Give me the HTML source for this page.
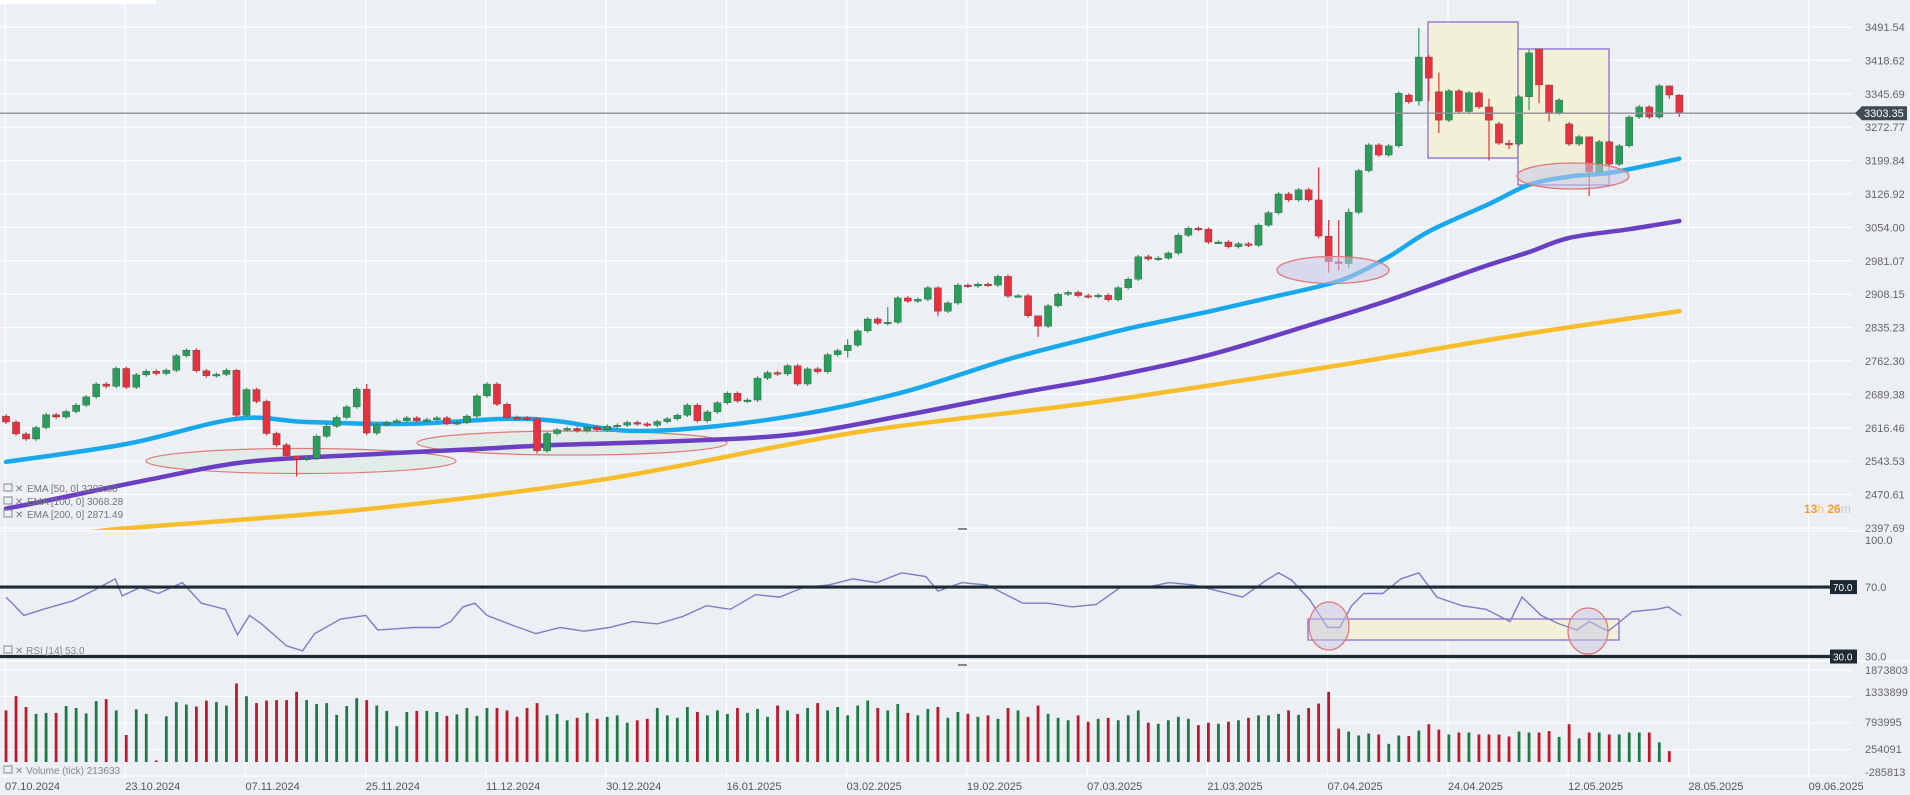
<!DOCTYPE html>
<html><head><meta charset="utf-8"><title>Chart</title>
<style>
html,body{margin:0;padding:0;background:#eceff3;}
svg{display:block;font-family:"Liberation Sans",sans-serif;}
</style></head>
<body>
<svg id="chart" width="1910" height="795" viewBox="0 0 1910 795" xmlns="http://www.w3.org/2000/svg">
<rect x="0" y="0" width="1910" height="795" fill="#eceff3"/>
<rect x="0" y="0" width="156" height="4" fill="#ffffff"/>
<g id="grid"></g>
<g id="annot-back"></g>
<g id="price"></g>
<g id="annot-front"></g>
<g id="rsi"></g>
<g id="vol"></g>
<g id="axes"></g>
</svg>
<script>
// ---------- DATA ----------
const closes = [2629,2603,2592,2617,2645,2640,2652,2666,2684,2712,2707,2746,2705,2732,2740,2735,2742,2774,2786,2741,
2730,2733,2742,2644,2700,2674,2604,2579,2555,2548,2550,2598,2620,2639,2662,2701,2605,2623,2628,2632,
2638,2632,2634,2638,2626,2628,2642,2686,2712,2668,2639,2638,2636,2566,2604,2612,2615,2610,2618,2612,
2620,2622,2628,2625,2622,2630,2636,2644,2666,2632,2651,2671,2692,2675,2677,2725,2737,2734,2752,2712,
2745,2739,2776,2785,2797,2828,2854,2845,2847,2900,2893,2897,2922,2871,2889,2928,2926,2930,2928,2947,
2904,2905,2861,2838,2883,2908,2912,2905,2903,2906,2896,2922,2941,2990,2985,2987,2998,3037,3052,3050,
3022,3022,3012,3018,3015,3059,3086,3127,3114,3136,3114,3035,2979,2975,3087,3178,3234,3212,3232,3347,
3328,3426,3380,3288,3352,3307,3348,3317,3288,3238,3234,3339,3435,3365,3304,3332,3236,3252,3176,3241,
3192,3232,3295,3317,3295,3363,3343,3303];
const firstOpen = 2642;
const openOverrides = [[140,3343],[141,3330],[143,3350],[149,3280],[156,3280],[153,3444],[151,3236],[160,3241]];
const wicks = [[131,3185,3030],[132,3070,2955],[133,3070,2960],[134,3095,2965],[141,3490,3320],[142,3430,3330],
[143,3392,3260],[148,3335,3200],[150,3245,3225],[152,3442,3310],[153,3440,3325],[154,3310,3285],[158,3180,3122],
[166,3360,3335],[167,3345,3295],[29,2555,2510],[36,2712,2600],[23,2745,2640],[53,2640,2560],[103,2842,2815],
[93,2925,2860],[88,2880,2840],[84,2810,2770]];
const volumes = [1050,1340,1120,980,1000,1000,1140,1100,990,1240,1280,1050,550,1070,980,30,930,1220,1170,1130,
1250,1220,1150,1600,1340,1200,1250,1260,1260,1430,1260,1180,1200,960,1140,1300,1260,1150,1040,730,
1020,1040,1040,1020,940,970,1100,940,1100,1100,
1050,920,1100,1200,950,980,850,900,1000,880,920,950,
800,850,880,1100,950,900,1120,1020,950,1050,980,1100,
1000,1080,920,1150,1050,980,1100,1200,1050,1120,950,1150,
1250,1100,1050,1180,1000,950,1080,1120,900,1020,980,920,
950,880,1100,1050,920,1150,980,900,850,950,820,880,
900,850,950,1050,800,780,850,920,880,750,800,780,820,850,900,
950,950,980,1050,960,1100,1190,1430,680,620,540,580,560,370,540,530,640,770,660,560,600,600,
560,560,560,520,620,600,600,630,510,770,480,600,600,560,560,600,600,600,400,220];
const ema50Idx = [0,12,23,30,40,50,55,62,70,80,90,100,109,113,120,126,131,134,138,142,148,152,156,160,164,167];
const ema50Val = [2542,2581,2636,2629,2625,2636,2631,2610,2618,2648,2697,2766,2817,2838,2870,2900,2925,2945,2990,3045,3105,3147,3165,3173,3190,3204];
const ema100Idx = [0,4,14,24,35,46,55,68,79,90,101,110,120,130,138,147,152,156,162,167];
const ema100Val = [2440,2457,2502,2542,2557,2569,2579,2588,2603,2645,2692,2727,2775,2840,2895,2965,3000,3031,3050,3068];
const ema200Idx = [8,12,36,60,85,109,133,151,167];
const ema200Val = [2385,2397,2439,2505,2607,2673,2753,2819,2871];
const rsiIdx = [0,1.8,3.7,6.7,9.1,10.9,11.6,13.4,15.2,17.6,19.5,21.9,23.1,24.3,25.5,28,29.6,30.8,33.4,35.9,37.1,40.7,43.2,44.4,45.6,46.8,48,50.5,52.9,55.3,57.7,60.2,62.6,65,67.5,69.9,72.3,74.8,77.2,79.6,82.1,84.5,86.9,89.4,91.8,93,95.4,97.9,99.1,101.5,104,106.4,108.8,111.2,113.7,116.1,118.5,121,123.4,125.8,127,128.3,130.1,131.9,133.1,134.3,135.5,137.4,139.2,141,142.8,145.3,147.7,150.1,151.3,153.2,155,156.8,158,159.9,161.1,162.3,164.7,165.9,167.2];
const rsiVal = [64.2,53.7,57.2,62.1,69.1,74.7,64.9,69.8,66.3,72.6,60.7,57.2,42.5,53.7,48.8,36.1,33.3,43.2,51.6,53.7,45.3,46.7,46.7,50.2,58.6,60.7,53.7,48.1,43.2,46.7,44.6,46.7,50.2,48.8,53,59.3,57.2,65.6,64.2,69.8,71.2,74.7,72.6,78.2,76.1,67.7,72.6,71.2,67.7,60.7,60.7,58.6,60,69.8,69.8,72.6,71.2,67.7,64.2,74,78.2,74,62.8,46.7,46.7,59.3,66.3,66.3,74.7,78.2,64.2,59.3,57.2,50.2,64.2,53.7,48.8,45.3,50.2,44.6,50.2,55.8,57.2,58.6,53.7];
const priceTicks = ["3491.54","3418.62","3345.69","3272.77","3199.84","3126.92","3054.00","2981.07","2908.15","2835.23","2762.30","2689.38","2616.46","2543.53","2470.61","2397.69"];
const volTicks = ["1873803","1333899","793995","254091","-285813"];
const volTickVals = [1873803,1333899,793995,254091,-285813];
const dateLabels = ["07.10.2024","23.10.2024","07.11.2024","25.11.2024","11.12.2024","30.12.2024","16.01.2025","03.02.2025","19.02.2025","07.03.2025","21.03.2025","07.04.2025","24.04.2025","12.05.2025","28.05.2025","09.06.2025"];
const lastPrice = 3303.35;

// ---------- SCALES ----------
const NS = "http://www.w3.org/2000/svg";
function px(i){ return 6 + 10.02*i; }
function py(p){ return 27 + (3491.54 - p)*0.458; }
function ry(v){ return 535 + (100 - v)*1.736; }
function vy(v){ return 762 - v*0.0491; } // v in thousands
function mk(tag, attrs, parent){ const e=document.createElementNS(NS,tag); for(const k in attrs) e.setAttribute(k,attrs[k]); parent.appendChild(e); return e; }
const G = id => document.getElementById(id);
const PLOT_R = 1852;

// ---------- GRID ----------
const grid = G('grid');
priceTicks.forEach((t,k)=>{
  const y = py(parseFloat(t));
  const l = mk('line',{x1:0,x2:PLOT_R,y1:y,y2:y,stroke:'#ffffff','stroke-width':1.2},grid);
  
  
});
volTickVals.forEach(v=>{
  const y = vy(v/1000);
  const l = mk('line',{x1:0,x2:PLOT_R,y1:y,y2:y,stroke:'#ffffff','stroke-width':1},grid);
  
  
});
dateLabels.forEach((d,k)=>{
  const x = px(12*k)-1;
  const l = mk('line',{x1:x,x2:x,y1:0,y2:778,stroke:'#ffffff','stroke-width':1.2},grid);
  
  
});
// pane separators
[531,661].forEach(y=>{
  const l = mk('line',{x1:0,x2:1910,y1:y,y2:y,stroke:'#f7f8fa','stroke-width':2},grid);
  
  
});

// ---------- ANNOTATIONS (back) ----------
const ab = G('annot-back');
function ell(cx,cy,rx,ryy,fill,name,parent){
  const e = mk('ellipse',{cx:cx,cy:cy,rx:rx,ry:ryy,fill:fill,stroke:'#e07a7a','stroke-width':1.2,'fill-opacity':0.75},parent);
  
  
}
ell(301,461,155,12.5,'#dde9e3','support-ellipse-1',ab);
ell(572,443,155,12,'#dde9e3','support-ellipse-2',ab);
const r1 = mk('rect',{x:1428,y:22,width:90,height:136,fill:'#f3f0d8',stroke:'#8a6fd0','stroke-width':1.3},ab);


const r2 = mk('rect',{x:1518,y:49,width:91,height:136,fill:'#f3f0d8',stroke:'#8a6fd0','stroke-width':1.3},ab);



// ---------- EMA LINES ----------
const price = G('price');
mk('clipPath',{id:'pclip'},price).appendChild((()=>{const r=document.createElementNS(NS,'rect');r.setAttribute('x',0);r.setAttribute('y',0);r.setAttribute('width',PLOT_R);r.setAttribute('height',530);return r;})());
function smoothPath(xs, ys){
  let d = 'M'+xs[0].toFixed(1)+','+ys[0].toFixed(1);
  for(let k=0;k<xs.length-1;k++){
    const x0=xs[Math.max(k-1,0)],y0=ys[Math.max(k-1,0)],x1=xs[k],y1=ys[k],x2=xs[k+1],y2=ys[k+1],x3=xs[Math.min(k+2,xs.length-1)],y3=ys[Math.min(k+2,xs.length-1)];
    const c1x=x1+(x2-x0)/6,c1y=y1+(y2-y0)/6,c2x=x2-(x3-x1)/6,c2y=y2-(y3-y1)/6;
    d+=' C'+c1x.toFixed(1)+','+c1y.toFixed(1)+' '+c2x.toFixed(1)+','+c2y.toFixed(1)+' '+x2.toFixed(1)+','+y2.toFixed(1);
  }
  return d;
}
const emaG = mk('g',{'clip-path':'url(#pclip)'},price);


const e200 = mk('path',{d:smoothPath(ema200Idx.map(px),ema200Val.map(py)),fill:'none',stroke:'#f7bd2a','stroke-width':4.5,'stroke-linecap':'round'},emaG);


const e100 = mk('path',{d:smoothPath(ema100Idx.map(px),ema100Val.map(py)),fill:'none',stroke:'#6a3fc4','stroke-width':4.5,'stroke-linecap':'round'},emaG);


const e50 = mk('path',{d:smoothPath(ema50Idx.map(px),ema50Val.map(py)),fill:'none',stroke:'#17a9ec','stroke-width':4.5,'stroke-linecap':'round'},emaG);



// ---------- CANDLES ----------
const opens = closes.map((c,i)=> i===0 ? firstOpen : closes[i-1]);
openOverrides.forEach(([i,o])=>{ opens[i]=o; });
const wickMap = {};
wicks.forEach(([i,h,l])=>{ wickMap[i]=[h,l]; });
const UP='#2a9d5c', DN='#e6323e';
closes.forEach((c,i)=>{
  const o = opens[i];
  const up = c >= o;
  const col = up ? UP : DN;
  const hi = wickMap[i] ? wickMap[i][0] : Math.max(o,c)+4;
  const lo = wickMap[i] ? wickMap[i][1] : Math.min(o,c)-4;
  const x = px(i);
  const g = mk('g',{},price);
  
  
  mk('line',{x1:x,x2:x,y1:py(hi),y2:py(lo),stroke:col,'stroke-width':1.2},g);
  const yt = py(Math.max(o,c)), yb = py(Math.min(o,c));
  mk('rect',{x:x-3.6,y:yt,width:7.2,height:Math.max(yb-yt,1.6),fill:col,stroke:'#3a3a3a','stroke-width':0.3},g);
});

// ---------- ANNOTATIONS (front) ----------
const af = G('annot-front');
const ea = mk('ellipse',{cx:1333,cy:270,rx:56,ry:13.5,fill:'#c9c7e6','fill-opacity':0.55,stroke:'#e07a7a','stroke-width':1.3},af);


const eb = mk('ellipse',{cx:1573,cy:176,rx:56,ry:13,fill:'#c9c7e6','fill-opacity':0.55,stroke:'#e07a7a','stroke-width':1.3},af);


// last price line
const lp = mk('line',{x1:0,x2:1858,y1:py(lastPrice),y2:py(lastPrice),stroke:'#8c9096','stroke-width':1.3},af);


const lpt = mk('path',{d:`M1855 ${py(lastPrice)} L1862 ${py(lastPrice)-7} L1907 ${py(lastPrice)-7} L1907 ${py(lastPrice)+7} L1862 ${py(lastPrice)+7} Z`,fill:'#3f4a55'},af);


const lptx = mk('text',{x:1864,y:py(lastPrice)+4,'font-size':11,fill:'#ffffff'},af);
lptx.textContent = lastPrice.toFixed(2);



// legends
const leg = [["EMA [50, 0] 3203.88",492],["EMA [100, 0] 3068.28",505],["EMA [200, 0] 2871.49",518]];
leg.forEach(([t,y])=>{
  const g = mk('g',{},af);
  
  
  mk('rect',{x:4,y:y-8,width:8,height:7,fill:'none',stroke:'#888','stroke-width':1},g);
  const x = mk('text',{x:15,y:y,'font-size':10,fill:'#777'},g); x.textContent='✕';
  const tx = mk('text',{x:27,y:y,'font-size':10,fill:'#777'},g); tx.textContent=t;
});
const cd = mk('text',{x:1804,y:513,'font-size':12,fill:'#f0a12a','font-weight':'bold'},af);


cd.innerHTML = '13<tspan fill="#f5c684" font-weight="normal">h</tspan> 26<tspan fill="#c8c8c8" font-weight="normal">m</tspan>';

// ---------- RSI ----------
const rsi = G('rsi');
const rbox = mk('rect',{x:1308,y:619,width:311,height:21,fill:'#f3f0d8',stroke:'#8a6fd0','stroke-width':1.3},rsi);


const rp = mk('polyline',{points:rsiIdx.map((ix,k)=>px(ix).toFixed(1)+','+ry(rsiVal[k]).toFixed(1)).join(' '),fill:'none',stroke:'#7c7fc4','stroke-width':1.4},rsi);


[[1329,626,20,24],[1588,631,20,23]].forEach(([cx,cy,rx,r2])=>{
  const c = mk('ellipse',{cx:cx,cy:cy,rx:rx,ry:r2,fill:'#c9c7e6','fill-opacity':0.5,stroke:'#e07a7a','stroke-width':1.3},rsi);
  
  
});
[70,30].forEach(v=>{
  const y = ry(v);
  const l = mk('line',{x1:0,x2:1832,y1:y,y2:y,stroke:'#1e2a33','stroke-width':3.2},rsi);
  
  
  const b = mk('rect',{x:1830,y:y-7,width:27,height:14,fill:'#1e2a33'},rsi);
  
  
  const t = mk('text',{x:1833,y:y+4,'font-size':10,fill:'#fff'},rsi); t.textContent=v.toFixed(1);
});
const rl = mk('g',{},rsi);


mk('rect',{x:4,y:646,width:8,height:7,fill:'none',stroke:'#888','stroke-width':1},rl);
const rlt = mk('text',{x:15,y:654,'font-size':10,fill:'#888'},rl); rlt.textContent='✕  RSI [14] 53.0';

// ---------- VOLUME ----------
const vol = G('vol');
volumes.forEach((v,i)=>{
  const up = closes[i] >= opens[i];
  const b = mk('rect',{x:px(i)-1.4,y:vy(v),width:2.8,height:Math.max(762-vy(v),1),fill: up ? '#1e7a45' : '#c0182a'},vol);
  
  
});
const vl = mk('g',{},vol);


mk('rect',{x:4,y:766,width:8,height:7,fill:'none',stroke:'#888','stroke-width':1},vl);
const vlt = mk('text',{x:15,y:774,'font-size':10,fill:'#888'},vl); vlt.textContent='✕  Volume (tick) 213633';

// ---------- AXES ----------
const ax = G('axes');
priceTicks.forEach(t=>{
  const y = py(parseFloat(t));
  const tx = mk('text',{x:1865,y:y+4,'font-size':11,fill:'#666'},ax);
  tx.textContent = t;
  
  
});
[["100.0",100],["70.0",70],["30.0",30]].forEach(([t,v])=>{
  const tx = mk('text',{x:1865,y:ry(v)+(v===100?9:4),'font-size':11,fill:'#666'},ax);
  tx.textContent = t;
  
  
});
volTicks.forEach((t,k)=>{
  const ys=[670,692,722,749,772];
  const tx = mk('text',{x:1865,y:ys[k]+4,'font-size':11,fill:'#666'},ax);
  tx.textContent = t;
  
  
});
dateLabels.forEach((d,k)=>{
  const tx = mk('text',{x:px(12*k)-1,y:790,'font-size':11,fill:'#555'},ax);
  tx.textContent = d;
  
  
});
[529,665].forEach(y=>{
  const h = mk('rect',{x:958,y:y-1,width:9,height:2,fill:'#888'},ax);
  
  
});
</script>
</body></html>
